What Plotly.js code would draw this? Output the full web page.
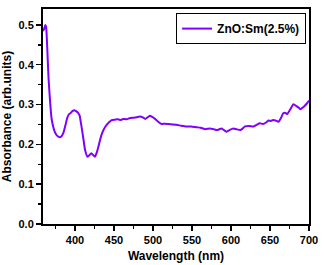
<!DOCTYPE html>
<html><head><meta charset="utf-8">
<script src="https://cdn.plot.ly/plotly-3.0.1.min.js"></script>
<style>html,body{margin:0;padding:0;background:#fff;}#chart{width:324px;height:265px;}</style>
</head><body><div id="chart"></div>
<script>
const wavelength = [359,360.5,362,363,364.5,366,368,370,372,374,377,381,383,385,388,390,392,394.5,397,399,401,404,406,407,409,411,413,416,418,421,423,425.6,428,430,432,434,437,440.6,444,447,451,455.5,458,462,466,470.5,475,479,483,487,490,493,496,499,502.6,506,511,515,520,525,530,536,543,549,556,561,567,573,578,582,585,588,591,594,598,603,607,612,615,618,623,629,633,637,641,645,648,651,654,657,661,664,667,670,672,676,680,684,687,689,691,694,697,700];
const absorbance = [0.485,0.49,0.50,0.495,0.44,0.37,0.31,0.265,0.245,0.232,0.222,0.218,0.221,0.228,0.25,0.266,0.275,0.279,0.284,0.286,0.284,0.279,0.272,0.261,0.237,0.211,0.185,0.169,0.172,0.178,0.174,0.169,0.18,0.194,0.21,0.224,0.238,0.249,0.256,0.261,0.262,0.263,0.261,0.264,0.263,0.266,0.267,0.268,0.270,0.268,0.264,0.268,0.272,0.269,0.264,0.258,0.251,0.252,0.251,0.250,0.249,0.247,0.245,0.245,0.243,0.242,0.238,0.240,0.238,0.236,0.238,0.240,0.236,0.232,0.236,0.240,0.238,0.236,0.240,0.245,0.246,0.245,0.249,0.253,0.251,0.255,0.260,0.259,0.261,0.260,0.257,0.266,0.278,0.279,0.276,0.288,0.301,0.296,0.292,0.288,0.291,0.296,0.302,0.310];
const seriesName = 'ZnO:Sm(2.5%)';
const xTitle = 'Wavelength (nm)';
const yTitle = 'Absorbance (arb.units)';

const fontFam = 'Liberation Sans, Arial, sans-serif';
const trace = {x: wavelength, y: absorbance, type: 'scatter', mode: 'lines', name: seriesName,
  line: {color: '#8000FF', width: 2, shape: 'spline', smoothing: 0.5}};
const axisCommon = {showline: true, linecolor: '#000', linewidth: 2, mirror: true, showgrid: false, zeroline: false,
  ticks: 'outside', ticklen: 5, tickwidth: 1.5, tickcolor: '#000',
  tickfont: {family: fontFam, size: 11, color: '#000', weight: 'bold'}};
const layout = {
  width: 324, height: 265,
  margin: {l: 43, r: 15, t: 9, b: 41},
  paper_bgcolor: '#fff', plot_bgcolor: '#fff',
  showlegend: true,
  legend: {x: 0.989, y: 0.981, xanchor: 'right', yanchor: 'top', bordercolor: '#000', borderwidth: 1,
    bgcolor: '#fff', font: {family: fontFam, size: 12, color: '#000', weight: 'bold'},
    itemwidth: 30, tracegroupgap: 0},
  xaxis: Object.assign({}, axisCommon, {range: [359, 700], tickvals: [400,450,500,550,600,650,700],
    minor: {dtick: 25, tick0: 375, ticks: 'outside', ticklen: 3, tickwidth: 1.5, tickcolor: '#000'},
    title: {text: xTitle, font: {family: fontFam, size: 12, color: '#000', weight: 'bold'}, standoff: 6}}),
  yaxis: Object.assign({}, axisCommon, {range: [0, 0.54], tickvals: [0,0.1,0.2,0.3,0.4,0.5], tickformat: '.1f',
    minor: {dtick: 0.05, tick0: 0.05, ticks: 'outside', ticklen: 3, tickwidth: 1.5, tickcolor: '#000'},
    title: {text: yTitle, font: {family: fontFam, size: 12, color: '#000', weight: 'bold'}, standoff: 4}})
};
Plotly.newPlot('chart', [trace], layout, {staticPlot: true, displayModeBar: false});
</script></body></html>
